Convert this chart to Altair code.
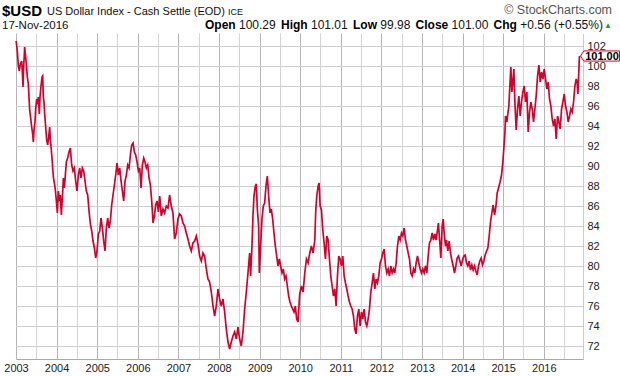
import altair as alt
import pandas as pd

# ---------------- data ----------------
dates = [
    "2003-01-02", "2003-01-13", "2003-01-22", "2003-01-31", "2003-02-09", "2003-02-21", "2003-02-27",
    "2003-03-05", "2003-03-11", "2003-03-20", "2003-03-29", "2003-04-04", "2003-04-13", "2003-04-22",
    "2003-04-28", "2003-05-04", "2003-05-13", "2003-05-22", "2003-05-31", "2003-06-06", "2003-06-12",
    "2003-06-21", "2003-06-27", "2003-07-06", "2003-07-15", "2003-07-21", "2003-07-30", "2003-08-05",
    "2003-08-14", "2003-08-23", "2003-08-29", "2003-09-04", "2003-09-10", "2003-09-16", "2003-09-25",
    "2003-10-04", "2003-10-13", "2003-10-22", "2003-10-31", "2003-11-06", "2003-11-15", "2003-11-24",
    "2003-12-03", "2003-12-12", "2003-12-21", "2003-12-30",
    "2004-01-08", "2004-01-17", "2004-01-26", "2004-02-04", "2004-02-13", "2004-02-22", "2004-03-02",
    "2004-03-11", "2004-03-20", "2004-03-29", "2004-04-10", "2004-04-22", "2004-05-04", "2004-05-16",
    "2004-05-28", "2004-06-09", "2004-06-21", "2004-07-03", "2004-07-15", "2004-07-27", "2004-08-08",
    "2004-08-20", "2004-09-01", "2004-09-13", "2004-09-25", "2004-10-07", "2004-10-19", "2004-10-31",
    "2004-11-12", "2004-11-24", "2004-12-06", "2004-12-18", "2004-12-30",
    "2005-01-11", "2005-01-23", "2005-02-04", "2005-02-16", "2005-02-28", "2005-03-12", "2005-03-24",
    "2005-04-05", "2005-04-17", "2005-04-29", "2005-05-11", "2005-05-23", "2005-06-04", "2005-06-16",
    "2005-06-28", "2005-07-10", "2005-07-22", "2005-08-03", "2005-08-15", "2005-08-27", "2005-09-08",
    "2005-09-20", "2005-10-02", "2005-10-14", "2005-10-26", "2005-11-07", "2005-11-19", "2005-12-01",
    "2005-12-13", "2005-12-25",
    "2006-01-06", "2006-01-18", "2006-01-30", "2006-02-11", "2006-02-23", "2006-03-07", "2006-03-19",
    "2006-03-31", "2006-04-12", "2006-04-24", "2006-05-06", "2006-05-18", "2006-05-30", "2006-06-11",
    "2006-06-23", "2006-07-05", "2006-07-17", "2006-07-31", "2006-08-15", "2006-08-30", "2006-09-14",
    "2006-09-29", "2006-10-14", "2006-10-29", "2006-11-13", "2006-11-28", "2006-12-13", "2006-12-28",
    "2007-01-12", "2007-01-27", "2007-02-11", "2007-02-26", "2007-03-13", "2007-03-28", "2007-04-12",
    "2007-04-27", "2007-05-12", "2007-05-27", "2007-06-11", "2007-06-26", "2007-07-11", "2007-07-26",
    "2007-08-10", "2007-08-25", "2007-09-09", "2007-09-24", "2007-10-09", "2007-10-24", "2007-11-08",
    "2007-11-23", "2007-12-08", "2007-12-23",
    "2008-01-07", "2008-01-22", "2008-02-06", "2008-02-21", "2008-03-07", "2008-03-22", "2008-04-06",
    "2008-04-21", "2008-05-06", "2008-05-21", "2008-06-05", "2008-06-20", "2008-07-05", "2008-07-20",
    "2008-08-04", "2008-08-19", "2008-09-03", "2008-09-18", "2008-10-03", "2008-10-12", "2008-10-24",
    "2008-11-02", "2008-11-11", "2008-11-23", "2008-12-02", "2008-12-11", "2008-12-23", "2008-12-29",
    "2009-01-10", "2009-01-22", "2009-02-03", "2009-02-15", "2009-02-27", "2009-03-11", "2009-03-23",
    "2009-04-04", "2009-04-16", "2009-04-28", "2009-05-10", "2009-05-22", "2009-06-03", "2009-06-15",
    "2009-06-27", "2009-07-09", "2009-07-21", "2009-08-02", "2009-08-14", "2009-08-26", "2009-09-07",
    "2009-09-19", "2009-10-01", "2009-10-13", "2009-10-25", "2009-11-06", "2009-11-18", "2009-11-30",
    "2009-12-12", "2009-12-27",
    "2010-01-12", "2010-01-27", "2010-02-11", "2010-02-26", "2010-03-13", "2010-03-28", "2010-04-12",
    "2010-04-27", "2010-05-12", "2010-05-21", "2010-05-30", "2010-06-11", "2010-06-20", "2010-06-29",
    "2010-07-11", "2010-07-23", "2010-08-04", "2010-08-16", "2010-08-28", "2010-09-09", "2010-09-21",
    "2010-10-03", "2010-10-15", "2010-10-27", "2010-11-08", "2010-11-20", "2010-12-02", "2010-12-14",
    "2010-12-26",
    "2011-01-07", "2011-01-19", "2011-01-31", "2011-02-12", "2011-02-24", "2011-03-08", "2011-03-20",
    "2011-04-01", "2011-04-13", "2011-04-25", "2011-05-07", "2011-05-19", "2011-05-31", "2011-06-12",
    "2011-06-24", "2011-07-06", "2011-07-18", "2011-07-30", "2011-08-11", "2011-08-23", "2011-09-04",
    "2011-09-16", "2011-09-28", "2011-10-10", "2011-10-22", "2011-11-03", "2011-11-15", "2011-11-27",
    "2011-12-09", "2011-12-21",
    "2012-01-02", "2012-01-14", "2012-01-26", "2012-02-07", "2012-02-19", "2012-03-02", "2012-03-14",
    "2012-03-26", "2012-04-07", "2012-04-19", "2012-05-01", "2012-05-13", "2012-05-25", "2012-06-06",
    "2012-06-18", "2012-06-30", "2012-07-12", "2012-07-24", "2012-08-05", "2012-08-17", "2012-08-29",
    "2012-09-10", "2012-09-22", "2012-10-04", "2012-10-16", "2012-10-28", "2012-11-09", "2012-11-21",
    "2012-12-03", "2012-12-15", "2012-12-27",
    "2013-01-08", "2013-01-20", "2013-02-01", "2013-02-13", "2013-02-25", "2013-03-09", "2013-03-21",
    "2013-04-02", "2013-04-14", "2013-04-26", "2013-05-08", "2013-05-20", "2013-05-28", "2013-06-10",
    "2013-06-19", "2013-07-01", "2013-07-10", "2013-07-19", "2013-07-31", "2013-08-09", "2013-08-21",
    "2013-09-02", "2013-09-14", "2013-09-26", "2013-10-08", "2013-10-20", "2013-11-01", "2013-11-13",
    "2013-11-25", "2013-12-07", "2013-12-19", "2013-12-31",
    "2014-01-12", "2014-01-24", "2014-02-05", "2014-02-17", "2014-03-01", "2014-03-13", "2014-03-25",
    "2014-04-06", "2014-04-18", "2014-04-30", "2014-05-12", "2014-05-24", "2014-06-05", "2014-06-17",
    "2014-06-29", "2014-07-11", "2014-07-23", "2014-08-04", "2014-08-16", "2014-08-28", "2014-09-09",
    "2014-09-21", "2014-10-03", "2014-10-15", "2014-10-27", "2014-11-08", "2014-11-20", "2014-12-02",
    "2014-12-17", "2014-12-29",
    "2015-01-07", "2015-01-16", "2015-01-22", "2015-02-03", "2015-02-09", "2015-02-21", "2015-03-02",
    "2015-03-11", "2015-03-20", "2015-03-29", "2015-04-07", "2015-04-16", "2015-04-28", "2015-05-10",
    "2015-05-22", "2015-06-03", "2015-06-15", "2015-06-27", "2015-07-09", "2015-07-21", "2015-08-02",
    "2015-08-14", "2015-08-26", "2015-09-07", "2015-09-19", "2015-10-01", "2015-10-13", "2015-10-25",
    "2015-11-06", "2015-11-18", "2015-11-30", "2015-12-12", "2015-12-24",
    "2016-01-05", "2016-01-17", "2016-01-29", "2016-02-10", "2016-02-22", "2016-03-05", "2016-03-17",
    "2016-03-29", "2016-04-10", "2016-04-22", "2016-05-04", "2016-05-16", "2016-05-28", "2016-06-09",
    "2016-06-21", "2016-07-03", "2016-07-15", "2016-07-27", "2016-08-08", "2016-08-20", "2016-09-01",
    "2016-09-13", "2016-09-25", "2016-10-07", "2016-10-19", "2016-10-28", "2016-11-03", "2016-11-09",
    "2016-11-14", "2016-11-17",
]

closes = [
    102.5, 101.5, 100.0, 99.5, 100.2, 100.5, 99.4,
    97.9, 99.9, 101.9, 100.9, 100.2, 98.9, 98.2,
    96.9, 95.6, 94.8, 93.9, 93.2, 92.4, 93.6,
    94.4, 95.7, 96.7, 96.2, 96.9, 95.2, 96.9,
    98.0, 98.9, 99.0, 96.9, 96.4, 95.2, 93.9,
    92.6, 92.1, 92.9, 93.9, 92.6, 91.6, 90.3,
    88.9, 88.3, 87.6, 86.5,
    85.3, 87.5, 86.5, 87.1, 85.1, 86.8, 88.8,
    87.8, 89.1, 90.4, 90.8, 91.4, 91.8, 90.1,
    89.5, 89.8, 88.5, 87.5, 89.1, 89.8, 88.8,
    89.8, 89.5, 88.5, 87.5, 87.1, 85.5, 84.2,
    83.5, 82.5, 81.8, 80.8, 81.5,
    83.2, 83.5, 84.8, 83.8, 82.5, 81.5, 83.8,
    84.8, 83.8, 84.5, 86.1, 87.1, 88.1, 89.1,
    90.3, 89.1, 89.8, 88.5, 87.5, 86.5, 88.5,
    89.1, 90.1, 89.8, 91.1, 92.1, 92.3, 91.4,
    91.1, 90.4,
    89.5, 89.8, 87.8, 90.1, 90.8, 90.4, 89.8,
    90.1, 88.8, 88.1, 86.5, 84.3, 85.0, 86.1,
    86.5, 85.4, 87.0, 85.0, 85.7, 85.3, 86.0,
    85.8, 87.1, 86.0, 85.3, 82.7, 83.3, 84.7,
    85.2, 85.0, 84.3, 84.0, 83.3, 82.7, 82.0,
    81.5, 82.3, 82.5, 83.0, 82.2, 81.0, 80.5,
    81.3, 81.0, 79.7, 78.7, 78.4, 77.4, 76.0,
    75.0, 76.0, 77.7,
    76.7, 76.0, 76.7, 75.4, 73.7, 72.4, 71.7,
    72.4, 73.0, 73.4, 72.7, 73.9, 72.7, 72.0,
    73.4, 75.7, 77.4, 79.3, 81.3, 79.0, 82.0,
    85.0, 87.0, 88.0, 88.2, 85.7, 84.0, 79.3,
    82.0, 84.7, 86.0, 86.3, 88.0, 89.0, 87.0,
    85.3, 85.7, 84.7, 83.3, 82.0, 81.0, 80.0,
    80.7, 80.0, 79.3, 79.7, 78.7, 79.0, 78.0,
    77.0, 76.4, 76.0, 75.7, 75.4, 76.0, 74.7,
    74.4, 77.2,
    78.0, 77.4, 79.3, 80.7, 80.3, 81.3, 82.0,
    81.3, 82.6, 85.6, 87.0, 88.0, 88.3, 86.0,
    85.6, 83.6, 82.3, 80.7, 83.0, 82.6, 80.7,
    79.0, 78.0, 77.0, 77.7, 76.0, 79.0, 81.0,
    80.7,
    80.0, 81.0, 79.0, 78.3, 77.7, 77.0, 76.4,
    76.0, 75.7, 75.0, 73.7, 73.2, 75.0, 75.7,
    74.0, 75.4, 74.7, 75.7, 74.4, 74.0, 74.7,
    75.7, 77.4, 78.3, 79.3, 77.7, 78.7, 78.3,
    79.0, 80.3,
    80.7, 81.3, 81.7, 80.0, 79.3, 79.7, 79.0,
    80.0, 79.3, 79.7, 79.3, 80.3, 82.0, 83.0,
    82.6, 83.3, 83.0, 83.8, 82.6, 82.0, 81.3,
    80.7, 79.3, 79.0, 79.7, 79.3, 80.3, 81.0,
    80.3, 79.7, 79.3,
    79.7, 79.3, 80.0, 79.3, 81.0, 82.3, 82.6,
    83.3, 82.6, 83.2, 82.6, 83.6, 84.3, 82.3,
    80.8, 84.0, 84.7, 83.3, 82.0, 82.6, 81.5,
    82.5, 81.3, 80.6, 80.0, 79.3, 80.0, 80.8,
    81.0, 80.5, 80.0, 80.6,
    81.0, 81.1, 80.3, 80.0, 80.5, 79.6, 80.1,
    79.6, 80.0, 79.5, 79.1, 80.0, 80.5, 80.8,
    80.1, 80.5, 81.1, 81.5, 81.8, 83.0, 84.4,
    85.3, 86.1, 85.1, 85.9, 87.3, 87.8, 88.3,
    89.1, 90.4,
    91.8, 93.2, 95.0, 94.4, 95.0, 96.0, 98.0,
    99.9, 97.4, 98.4, 99.7, 96.4, 93.6, 95.7,
    97.0, 95.0, 96.4, 97.4, 98.0, 96.4, 97.4,
    93.4, 95.4, 96.4, 95.7, 94.4, 95.7, 97.0,
    99.0, 100.1, 98.4, 99.4, 98.7,
    99.7, 98.7, 97.7, 98.4, 96.7, 96.0, 94.7,
    94.0, 94.7, 92.7, 95.0, 94.4, 93.7, 95.7,
    96.4, 97.2, 96.0, 95.4, 94.4, 95.0, 95.7,
    95.4, 96.4, 98.0, 98.7, 98.3, 97.2, 98.8,
    100.2, 101.0,
]

y_ticks = list(range(72, 104, 2))
years = list(range(2003, 2017))

# ---------------- layout / style ----------------
W, H = 567, 326          # plot area (10 px per index point)
PL, PT = 16, 33          # plot origin inside the 620x376 canvas
RED = "#d4002c"
FONT = "Liberation Sans"
GRID = "#cfcfcf"

df = pd.DataFrame({"date": dates, "close": closes})
last = df.tail(1)
ticks_df = pd.DataFrame({"close": y_ticks})

x_scale = alt.Scale(domain=[alt.DateTime(year=2003, month=1, date=1),
                            alt.DateTime(year=2016, month=12, date=19)])
y_scale = alt.Scale(domain=[70.7, 103.3], nice=False, zero=False)

x_axis = alt.Axis(
    values=[alt.DateTime(year=y, month=m, date=1) for y in years for m in (1, 7)],
    labelExpr="month(datum.value) == 0 ? timeFormat(datum.value, '%Y') : ''",
    title=None, ticks=False, labelPadding=3, labelFontSize=11, labelFont=FONT,
    labelColor="#222222", labelFlush=False, labelOverlap=False,
    gridColor={"condition": {"test": "month(datum.value) == 0", "value": "#b5b5b5"},
               "value": "#d4d4d4"},
    domainColor="#aaaaaa", zindex=0,
)
y_axis = alt.Axis(
    orient="right", values=y_ticks, title=None, ticks=False, labelPadding=4,
    labelFontSize=11, labelFont=FONT, labelColor="#222222", labelOverlap=False,
    grid=True, gridColor=GRID, gridOpacity=1, gridWidth=1,
    domainColor="#9a9a9a", domainDash=[1, 1], zindex=0,
)
y_enc = alt.Y("close:Q", scale=y_scale, axis=y_axis)

# horizontal grid rules at the y tick values (crisp: half-pixel offset)
hgrid = alt.Chart(ticks_df).mark_rule(color=GRID, strokeWidth=1, yOffset=0.5).encode(y=y_enc)

line = alt.Chart(df).mark_line(color=RED, strokeWidth=1.7).encode(
    x=alt.X("date:T", scale=x_scale, axis=x_axis),
    y=y_enc,
)

tag_shape = "M -1 0 L -0.83 -0.26 L 1 -0.26 L 1 0.26 L -0.83 0.26 Z"
tag = alt.Chart(last).mark_point(
    shape=tag_shape, size=1521, filled=True, fill="white", stroke=RED,
    strokeWidth=1, opacity=1, fillOpacity=1,
).encode(x=alt.value(584), y=y_enc)

tag_text = alt.Chart(last).transform_calculate(
    label="format(datum.close, '.2f')"
).mark_text(
    font=FONT, fontSize=11, fontWeight="bold", color="black", align="center", baseline="middle", dy=0.5,
).encode(x=alt.value(586), y=y_enc, text="label:N")


def label(text, cx, cy, size=12, weight="normal", color="#111111", align="left", font=FONT):
    return alt.Chart(pd.DataFrame({"t": [text]})).mark_text(
        font=font, fontSize=size, fontWeight=weight, color=color, align=align, baseline="alphabetic",
    ).encode(x=alt.value(cx - PL), y=alt.value(cy - PT), text="t:N")


headers = [
    label("$USD", 2, 16, size=15, weight="bold", color="#000000"),
    label("US Dollar Index - Cash Settle (EOD)", 47, 15, size=11),
    label("ICE", 228, 15, size=9),
    label("© StockCharts.com", 612, 14, size=12.5, color="#555555", align="right"),
    label("17-Nov-2016", 2, 29, size=11.5),
    label("Open", 205, 29, weight="bold", color="#000000"),
    label("100.29", 239, 29),
    label("High", 281, 29, weight="bold", color="#000000"),
    label("101.01", 311, 29),
    label("Low", 353, 29, weight="bold", color="#000000"),
    label("99.98", 380.3, 29),
    label("Close", 415.6, 29, weight="bold", color="#000000"),
    label("101.00", 451.6, 29),
    label("Chg", 493.6, 29, weight="bold", color="#000000"),
    label("+0.56 (+0.55%)", 520.2, 29),
    label("▲", 608, 28, size=8, color="#1e9e3a", align="center"),
]

chart = alt.layer(hgrid, line, tag, tag_text, *headers).properties(
    width=W, height=H,
    padding={"left": PL, "top": PT, "right": 620 - PL - W, "bottom": 376 - PT - H},
    autosize=alt.AutoSizeParams(type="none"),
    background="white",
).configure_view(stroke=None)

chart.save("out.html", embed_options={"renderer": "svg", "actions": False})
